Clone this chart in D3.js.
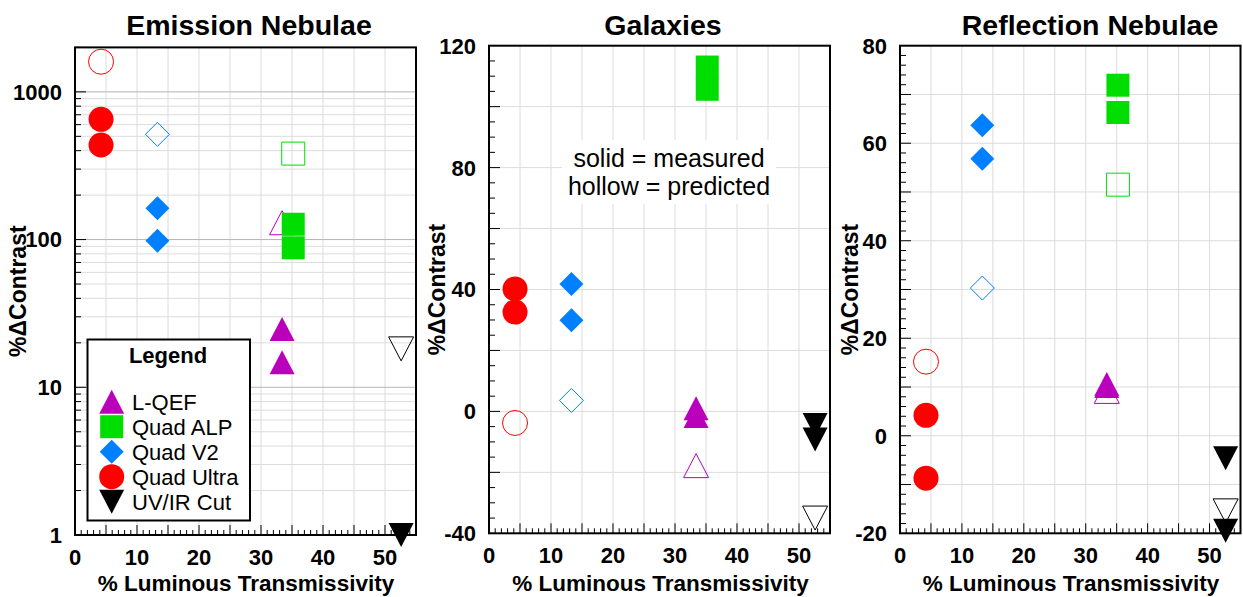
<!DOCTYPE html>
<html>
<head>
<meta charset="utf-8">
<script src="https://cdn.jsdelivr.net/npm/d3@7"></script>
<style>
body { margin: 0; background: #fff; }
svg text { font-family: "Liberation Sans", Arial, sans-serif; }
</style>
</head>
<body>
<div id="chart-area"></div>
<script>
// filters, in legend order
var seriesNames = ["L-QEF", "Quad ALP", "Quad V2", "Quad Ultra", "UV/IR Cut"];
var seriesColors = ["#bb00bb", "#00dd00", "#0080ff", "#ff0000", "#000000"];
var seriesShapes = ["triUp", "square", "diamond", "circle", "triDown"];
// % luminous transmissivity of each filter
var transmissivity = [33.4, 35.2, 13.3, 4.2, 52.6];

// %ΔContrast, measured (solid) and predicted (hollow)
var emissionMeasured = [[24.8, 14.8], [127, 88], [163, 98], [652, 437], [1]];
var emissionPredicted = [130, 382, 516, 1600, 18.2];
var galaxyMeasured = [[1.0, -1.5], [113, 105.7], [41.8, 29.9], [40.2, 32.6], [-4.5, -9.2]];
var galaxyPredicted = [-17.8, null, 3.6, -3.8, -35];
var reflectionMeasured = [[10.6, 10.2], [71.9, 66.3], [63.7, 56.8], [4.2, -8.7], [-4.6, -19.5]];
var reflectionPredicted = [9.1, 51.5, 30.3, 15.2, -15.4];

var xTickLabels = [0, 10, 20, 30, 40, 50];
var emissionTickLabels = [1, 10, 100, 1000];
var galaxyTickLabels = [-40, 0, 40, 80, 120];
var reflectionTickLabels = [-20, 0, 20, 40, 60, 80];

var W = 1243, H = 597;

var svg = d3.select("#chart-area")
	.append("svg")
		.attr("width", W)
		.attr("height", H);

function markerPath(shape) {
	switch (shape) {
		case "circle": return "M-12.5,0A12.5,12.5 0 1,0 12.5,0A12.5,12.5 0 1,0 -12.5,0Z";
		case "square": return "M-11.5,-11.5H11.5V11.5H-11.5Z";
		case "diamond": return "M0,-12L12,0L0,12L-12,0Z";
		case "triUp": return "M0,-12L12.5,12L-12.5,12Z";
		case "triDown": return "M-12.5,-12L12.5,-12L0,12Z";
	}
}

function drawPanel(cfg) {
	var g = svg.append("g");
	var x = d3.scaleLinear().domain([0, 55]).range([cfg.left, cfg.right]);
	var y = (cfg.log ? d3.scaleLog() : d3.scaleLinear())
		.domain(cfg.yDomain).range([cfg.bottom, cfg.top]);

	// grid
	var xGrid = d3.range(5, 55, 5);
	g.selectAll(".xgrid").data(xGrid).enter().append("line")
		.attr("x1", d => x(d)).attr("x2", d => x(d))
		.attr("y1", cfg.top).attr("y2", cfg.bottom)
		.attr("stroke", "#dcdcdc").attr("stroke-width", 1);

	g.selectAll(".ygrid").data(cfg.yGrid).enter().append("line")
		.attr("x1", cfg.left).attr("x2", cfg.right)
		.attr("y1", d => y(d)).attr("y2", d => y(d))
		.attr("stroke", d => cfg.log && cfg.yMajor.indexOf(d) >= 0 ? "#b4b4b4" : "#dcdcdc")
		.attr("stroke-width", 1);

	// x ticks, drawn inside the frame
	g.selectAll(".xtick").data(d3.range(1, 55, 1)).enter().append("line")
		.attr("x1", d => x(d)).attr("x2", d => x(d))
		.attr("y1", cfg.bottom).attr("y2", d => cfg.bottom - (d % 5 == 0 ? 10 : 5))
		.attr("stroke", "#000").attr("stroke-width", 1);

	g.selectAll(".ytick").data(cfg.yTicks).enter().append("line")
		.attr("x1", cfg.left).attr("x2", d => cfg.left + (cfg.yMajor.indexOf(d) >= 0 ? 11 : 6))
		.attr("y1", d => y(d)).attr("y2", d => y(d))
		.attr("stroke", "#000").attr("stroke-width", 1);

	// tick labels
	g.selectAll(".xlab").data(xTickLabels).enter().append("text")
		.attr("x", d => x(d)).attr("y", cfg.bottom + 30)
		.attr("text-anchor", "middle")
		.attr("font-size", "22px").attr("font-weight", "bold")
		.text(d => d);

	g.selectAll(".ylab").data(cfg.yLabels).enter().append("text")
		.attr("x", cfg.left - 13).attr("y", d => y(d))
		.attr("dy", "0.36em")
		.attr("text-anchor", "end")
		.attr("font-size", "22px").attr("font-weight", "bold")
		.text(d => d);

	// frame
	g.append("rect")
		.attr("x", cfg.left).attr("y", cfg.top)
		.attr("width", cfg.right - cfg.left).attr("height", cfg.bottom - cfg.top)
		.attr("fill", "none").attr("stroke", "#000").attr("stroke-width", 2);

	// titles
	g.append("text")
		.attr("x", cfg.titleX).attr("y", 35)
		.attr("text-anchor", "middle")
		.attr("font-size", "28.5px").attr("font-weight", "bold")
		.text(cfg.title);

	g.append("text")
		.attr("x", cfg.xLabelX).attr("y", 591)
		.attr("text-anchor", "middle")
		.attr("font-size", "22.5px").attr("font-weight", "bold")
		.text("% Luminous Transmissivity");

	g.append("text")
		.attr("transform", "translate(" + cfg.yLabelX + "," + ((cfg.top + cfg.bottom) / 2) + ") rotate(-90)")
		.attr("text-anchor", "middle")
		.attr("font-size", "23px").attr("font-weight", "bold")
		.text("%\u0394Contrast");

	if (cfg.note) cfg.note(g, x, y);

	// hollow = predicted
	var hollow = [];
	cfg.predicted.forEach((v, i) => { if (v != null) hollow.push({ i: i, v: v }); });
	g.selectAll(".pred").data(hollow).enter().append("path")
		.attr("d", d => markerPath(seriesShapes[d.i]))
		.attr("transform", d => "translate(" + x(transmissivity[d.i]) + "," + y(d.v) + ")")
		.attr("fill", "none")
		.attr("stroke", d => seriesColors[d.i])
		.attr("stroke-width", 1);

	// solid = measured
	var solid = [];
	cfg.measured.forEach((vals, i) => vals.forEach(v => solid.push({ i: i, v: v })));
	g.selectAll(".meas").data(solid).enter().append("path")
		.attr("d", d => markerPath(seriesShapes[d.i]))
		.attr("transform", d => "translate(" + x(transmissivity[d.i]) + "," + y(d.v) + ")")
		.attr("fill", d => seriesColors[d.i]);

	return g;
}

function logTicks(lo, hi) {
	var t = [];
	for (var p = 0; p < 4; p++)
		for (var m = 1; m < 10; m++) {
			var v = m * Math.pow(10, p);
			if (v >= lo && v <= hi) t.push(v);
		}
	return t;
}

var p1 = drawPanel({
	title: "Emission Nebulae", titleX: 249, xLabelX: 246,
	left: 75, right: 416, top: 47.4, bottom: 535,
	log: true, yDomain: [1, 2000],
	yGrid: logTicks(2, 1999), yTicks: logTicks(1, 2000), yMajor: emissionTickLabels,
	yLabels: emissionTickLabels, yLabelX: 26,
	measured: emissionMeasured, predicted: emissionPredicted
});

// legend
var lg = p1.append("g");
lg.append("rect")
	.attr("x", 87.5).attr("y", 339.5).attr("width", 162.5).attr("height", 181)
	.attr("fill", "#fff").attr("stroke", "#000").attr("stroke-width", 2);
lg.append("text")
	.attr("x", 168).attr("y", 363)
	.attr("text-anchor", "middle")
	.attr("font-size", "22px").attr("font-weight", "bold")
	.text("Legend");
var rowY = d3.scaleLinear().domain([0, 4]).range([401.7, 501.7]);
seriesNames.forEach(function(name, i) {
	lg.append("path")
		.attr("d", markerPath(seriesShapes[i]))
		.attr("transform", "translate(111.7," + rowY(i) + ")")
		.attr("fill", seriesColors[i]);
	lg.append("text")
		.attr("x", 132).attr("y", rowY(i) + 8)
		.attr("font-size", "22px")
		.text(name);
});

drawPanel({
	title: "Galaxies", titleX: 663, xLabelX: 660.5,
	left: 489, right: 830, top: 45.7, bottom: 533.3,
	yDomain: [-40, 120],
	yGrid: d3.range(-20, 120, 20), yTicks: d3.range(-35, 120, 5), yMajor: d3.range(-40, 121, 20),
	yLabels: galaxyTickLabels, yLabelX: 445,
	measured: galaxyMeasured, predicted: galaxyPredicted,
	note: function(g, x, y) {
		var t = g.append("text")
			.attr("x", 669).attr("text-anchor", "middle")
			.attr("font-size", "25px");
		t.append("tspan").attr("x", 669).attr("y", 167).text("solid = measured");
		t.append("tspan").attr("x", 669).attr("y", 195).text("hollow = predicted");
		var bb = t.node().getBBox();
		g.insert("rect", "text")
			.attr("x", bb.x - 6).attr("y", bb.y - 4)
			.attr("width", bb.width + 12).attr("height", bb.height + 8)
			.attr("fill", "#fff");
	}
});

drawPanel({
	title: "Reflection Nebulae", titleX: 1090, xLabelX: 1071,
	left: 900, right: 1240.5, top: 45.7, bottom: 533.3,
	yDomain: [-20, 80],
	yGrid: d3.range(-10, 80, 10), yTicks: d3.range(-18, 80, 2), yMajor: d3.range(-20, 81, 10),
	yLabels: reflectionTickLabels, yLabelX: 858,
	measured: reflectionMeasured, predicted: reflectionPredicted
});
</script>
</body>
</html>
